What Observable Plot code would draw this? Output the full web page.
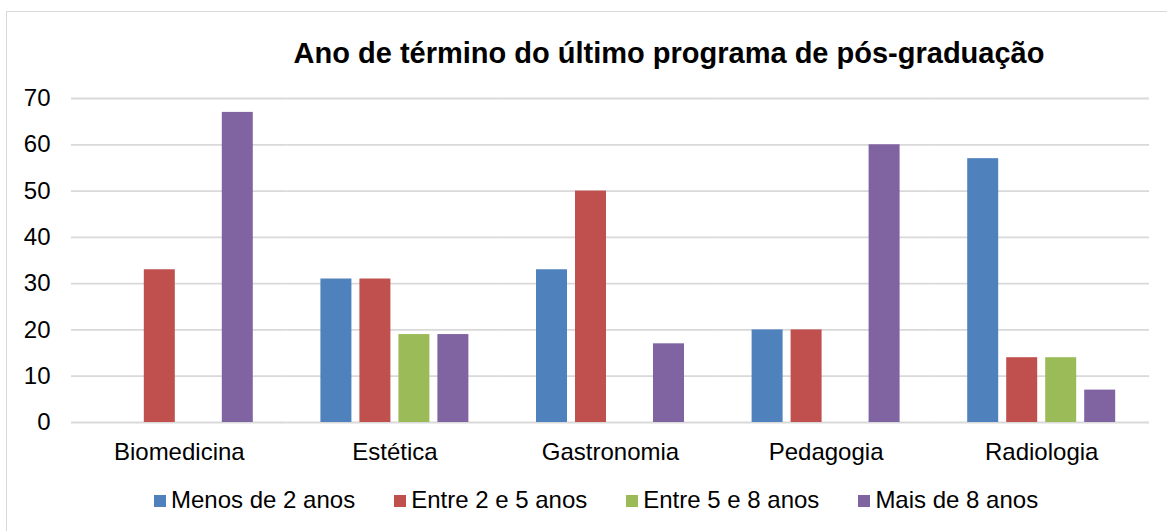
<!DOCTYPE html>
<html>
<head>
<meta charset="utf-8">
<script src="https://cdn.jsdelivr.net/npm/d3@7"></script>
<script src="https://cdn.jsdelivr.net/npm/@observablehq/plot@0.6"></script>
<style>
  html, body { margin: 0; padding: 0; background: #fff; }
  body { width: 1167px; height: 531px; overflow: hidden; position: relative; font-family: "Liberation Sans", Arial, sans-serif; }
  #frame { position: absolute; left: 6px; top: 11px; width: 1400px; height: 600px; border: 1.5px solid #d9d9d9; box-sizing: border-box; }
  #title { position: absolute; left: 669px; top: 36px; transform: translateX(-50%); white-space: nowrap; font-weight: bold; font-size: 29px; line-height: 34px; color: #000; }
  #chart { position: absolute; left: 0; top: 70px; }
  #legend { position: absolute; left: 154px; top: 486px; display: flex; align-items: center; font-size: 24px; line-height: 28px; color: #000; white-space: nowrap; }
  .item { display: flex; align-items: center; margin-right: 39px; }
  .sw { width: 12px; height: 12px; margin-right: 5px; margin-top: 2px; }
</style>
</head>
<body>
<div id="frame"></div>
<div id="title">Ano de término do último programa de pós-graduação</div>
<div id="chart"></div>
<div id="legend"></div>
<script>
const categories = ["Biomedicina", "Estética", "Gastronomia", "Pedagogia", "Radiologia"];
const seriesNames = ["Menos de 2 anos", "Entre 2 e 5 anos", "Entre 5 e 8 anos", "Mais de 8 anos"];
const seriesColors = ["#4F81BD", "#C0504D", "#9BBB59", "#8064A2"];
const menos2 = [0, 31, 33, 20, 57];
const entre2e5 = [33, 31, 50, 20, 14];
const entre5e8 = [0, 19, 0, 0, 14];
const mais8 = [67, 19, 17, 60, 7];
const yTicks = [0, 10, 20, 30, 40, 50, 60, 70];

const seriesValues = [menos2, entre2e5, entre5e8, mais8];
const rows = [];
categories.forEach((c, i) => {
  seriesNames.forEach((s, j) => {
    rows.push({category: c, series: s, value: seriesValues[j][i]});
  });
});

const plot = Plot.plot({
  width: 1167,
  height: 400,
  marginLeft: 71,
  marginRight: 18,
  marginTop: 28,
  marginBottom: 48,
  style: {fontFamily: '"Liberation Sans", Arial, sans-serif', fontSize: "24px", color: "#000", background: "transparent"},
  fx: {domain: categories, padding: 0, round: false, label: null},
  x: {domain: seriesNames, paddingInner: 0.205, paddingOuter: 0.867, round: false, axis: null},
  y: {domain: [0, 70], axis: null},
  color: {domain: seriesNames, range: seriesColors},
  marks: [
    Plot.ruleY(yTicks, {stroke: "#d9d9d9", strokeWidth: 1.8}),
    Plot.barY(rows.filter(d => d.value > 0), {fx: "category", x: "series", y: "value", fill: "series"}),
    Plot.axisY(yTicks, {tickSize: 0, tickPadding: 21, fontSize: 24, fill: "#000", label: null}),
    Plot.axisFx({anchor: "bottom", tickSize: 0, tickPadding: 20, fontSize: 24, fill: "#000", label: null})
  ]
});
document.getElementById("chart").appendChild(plot);

const legend = document.getElementById("legend");
seriesNames.forEach((s, j) => {
  const item = document.createElement("div");
  item.className = "item";
  const sw = document.createElement("div");
  sw.className = "sw";
  sw.style.background = seriesColors[j];
  const t = document.createElement("span");
  t.textContent = s;
  item.appendChild(sw);
  item.appendChild(t);
  legend.appendChild(item);
});
</script>
</body>
</html>
